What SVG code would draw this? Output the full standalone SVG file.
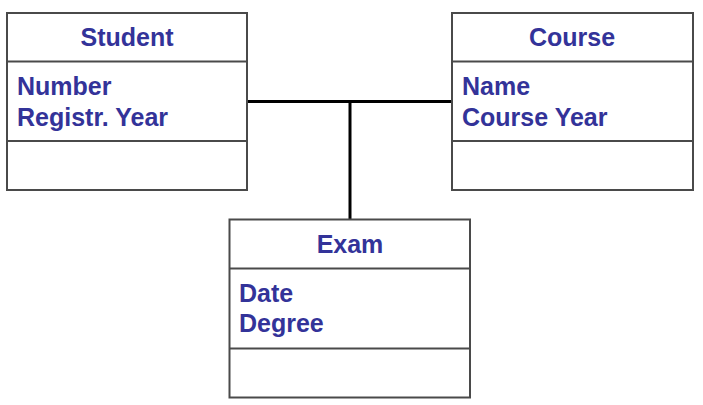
<svg xmlns="http://www.w3.org/2000/svg" width="703" height="405" viewBox="0 0 703 405">
<style>
.box{fill:#ffffff;stroke:#4a4a4a;stroke-width:2}
.div{stroke:#4a4a4a;stroke-width:2}
.t{font-family:"Liberation Sans",Arial,sans-serif;font-weight:bold;font-size:25px;fill:#333399}
.c{text-anchor:middle}
.conn{stroke:#000000;stroke-width:3;fill:none}
</style>
<rect width="703" height="405" fill="#ffffff"/>
<g id="connectors">
<line class="conn" x1="247" y1="101.5" x2="452" y2="101.5"/>
<line class="conn" x1="350" y1="101.5" x2="350" y2="219"/>
</g>
<g id="student">
<rect class="box" x="7" y="13" width="240" height="177"/>
<line class="div" x1="7" y1="61.5" x2="247" y2="61.5"/>
<line class="div" x1="7" y1="141" x2="247" y2="141"/>
<text class="t c" x="127" y="46">Student</text>
<text class="t" x="17" y="95">Number</text>
<text class="t" x="17" y="126">Registr. Year</text>
</g>
<g id="course">
<rect class="box" x="452" y="13" width="241" height="177"/>
<line class="div" x1="452" y1="61.5" x2="693" y2="61.5"/>
<line class="div" x1="452" y1="141" x2="693" y2="141"/>
<text class="t c" x="572" y="46">Course</text>
<text class="t" x="462" y="95">Name</text>
<text class="t" x="462" y="126">Course Year</text>
</g>
<g id="exam">
<rect class="box" x="229.5" y="219.5" width="240.5" height="178"/>
<line class="div" x1="229.5" y1="268.5" x2="470" y2="268.5"/>
<line class="div" x1="229.5" y1="348.5" x2="470" y2="348.5"/>
<text class="t c" x="350" y="253">Exam</text>
<text class="t" x="239" y="302">Date</text>
<text class="t" x="239" y="332">Degree</text>
</g>
</svg>
